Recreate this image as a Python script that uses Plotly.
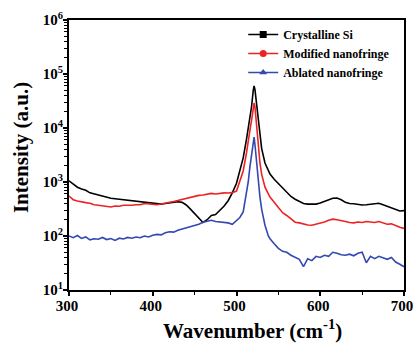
import plotly.graph_objects as go

wavenumber = [300, 305, 310, 315, 320, 325, 330, 335, 340, 345, 350, 355, 360, 365, 370, 375,
              380, 385, 390, 395, 400, 405, 410, 415, 420, 425, 430, 435, 440, 445, 450, 455,
              460, 465, 470, 475, 480, 485, 490, 495, 500, 504, 508, 512, 514, 516, 518, 520,
              521, 522, 524, 526, 528, 530, 534, 538, 540, 545, 550, 555, 560, 565, 570, 575,
              580, 585, 590, 595, 600, 605, 610, 615, 620, 625, 630, 635, 640, 645, 650, 655,
              660, 665, 670, 675, 680, 685, 690, 695, 700]

crystalline_si = [1050, 900, 800, 740, 700, 630, 600, 580, 550, 525, 500, 490, 480, 470, 460, 455,
                  445, 440, 425, 415, 405, 395, 390, 400, 410, 420, 430, 420, 375, 315, 260, 210,
                  178, 200, 240, 250, 295, 355, 450, 630, 950, 1660, 2800, 6300, 9500, 14000, 25000, 50000,
                  60000, 52000, 28000, 14000, 7000, 4200, 2250, 1600, 1400, 1120, 930, 760, 630, 540, 480, 435,
                  400, 390, 395, 390, 410, 435, 470, 500, 505, 470, 420, 400, 395, 380, 375, 380,
                  390, 400, 405, 380, 355, 330, 310, 290, 295]

modified = [550, 470, 445, 425, 415, 405, 380, 370, 365, 355, 345, 360, 355, 370, 365, 370,
            380, 380, 400, 390, 390, 380, 390, 400, 420, 435, 455, 480, 500, 525, 550, 565,
            575, 600, 615, 600, 620, 630, 625, 635, 680, 1000, 1600, 3500, 5200, 9000, 14000, 25000,
            29000, 25000, 11000, 5000, 2250, 1400, 800, 600, 525, 420, 330, 270, 240, 210, 180, 175,
            165, 160, 158, 165, 175, 182, 195, 205, 200, 190, 185, 178, 175, 182, 178, 185,
            182, 178, 185, 172, 165, 168, 155, 145, 138]

ablated = [100, 93, 102, 90, 96, 85, 89, 87, 94, 86, 90, 83, 91, 88, 94, 91,
           96, 93, 100, 96, 103, 107, 105, 115, 120, 118, 128, 135, 145, 150, 158, 165,
           180, 190, 195, 185, 182, 178, 175, 165, 190, 220, 280, 630, 1000, 1900, 3500, 6000,
           6800, 5000, 2250, 1000, 525, 315, 158, 100, 89, 72, 59, 52, 50, 44, 40, 37,
           27, 38, 35, 42, 40, 44, 42, 50, 48, 45, 44, 46, 43, 48, 50, 32,
           42, 38, 42, 40, 37, 40, 33, 30, 27]

series_names = ["Crystalline Si", "Modified nanofringe", "Ablated nanofringe"]
series_colors = ["#000000", "#ee2222", "#3348b0"]
series_symbols = ["square", "circle", "triangle-up"]
series_values = [crystalline_si, modified, ablated]

decades = [10, 100, 1000, 10000, 100000]
y_tickvals = [10, 100, 1000, 10000, 100000, 1000000]
y_ticktext = ["10<sup>1</sup>", "10<sup>2</sup>", "10<sup>3</sup>", "10<sup>4</sup>", "10<sup>5</sup>", "10<sup>6</sup>"]
y_minor = [d * m for d in decades for m in range(2, 10)]
x_tickvals = [300, 400, 500, 600, 700]
x_title = "Wavenumber (cm<sup>-1</sup>)"
y_title = "Intensity (a.u.)"

fig = go.Figure()
for name, color, vals in zip(series_names, series_colors, series_values):
    fig.add_trace(go.Scatter(x=wavenumber, y=vals, mode="lines", line=dict(color=color, width=1.6),
                             showlegend=False))
for name, color, sym in zip(series_names, series_colors, series_symbols):
    fig.add_trace(go.Scatter(x=[None], y=[None], mode="lines+markers", name=name,
                             line=dict(color=color, width=1.6),
                             marker=dict(symbol=sym, size=7, color=color)))

font_family = "Liberation Serif, Times New Roman, serif"
title_font = dict(size=21, family=font_family, weight="bold", color="black")
fig.update_layout(
    width=414, height=344,
    margin=dict(l=69, r=10, t=20, b=54),
    paper_bgcolor="white", plot_bgcolor="white",
    font=dict(family=font_family, color="black"),
    legend=dict(x=0.52, y=1.0, xanchor="left", yanchor="top",
                font=dict(size=12, family=font_family, weight="bold"),
                bgcolor="rgba(0,0,0,0)", tracegroupgap=0, itemwidth=30),
    showlegend=True,
    annotations=[
        dict(text=x_title, xref="paper", yref="paper", x=0.549, y=-0.148,
             xanchor="center", yanchor="middle", showarrow=False, font=title_font),
        dict(text=y_title, xref="paper", yref="paper", x=-0.143, y=0.526, textangle=-90,
             xanchor="center", yanchor="middle", showarrow=False, font=title_font),
    ],
)
fig.update_xaxes(
    range=[300, 700], tickvals=x_tickvals, automargin=False,
    ticks="outside", ticklen=4, tickwidth=1.5, tickcolor="black", ticklabelstandoff=-3,
    ticklabelshift=-2,
    minor=dict(ticks="outside", ticklen=3, tickwidth=1.2, tickcolor="black", dtick=50),
    showline=True, linecolor="black", linewidth=2, mirror=True,
    showgrid=False, zeroline=False,
    tickfont=dict(size=15, family=font_family, weight="bold"),
)
fig.update_yaxes(
    type="log", range=[1, 6], tickvals=y_tickvals, ticktext=y_ticktext, automargin=False,
    ticks="outside", ticklen=4, tickwidth=1.5, tickcolor="black", ticklabelstandoff=-3,
    minor=dict(ticks="outside", ticklen=3, tickwidth=1, tickcolor="black", tickvals=y_minor),
    showline=True, linecolor="black", linewidth=2, mirror=True,
    showgrid=False, zeroline=False,
    tickfont=dict(size=15, family=font_family, weight="bold"),
)
fig.write_html("out.html", config={"displayModeBar": False},
               post_script="document.body.style.margin='0';")
